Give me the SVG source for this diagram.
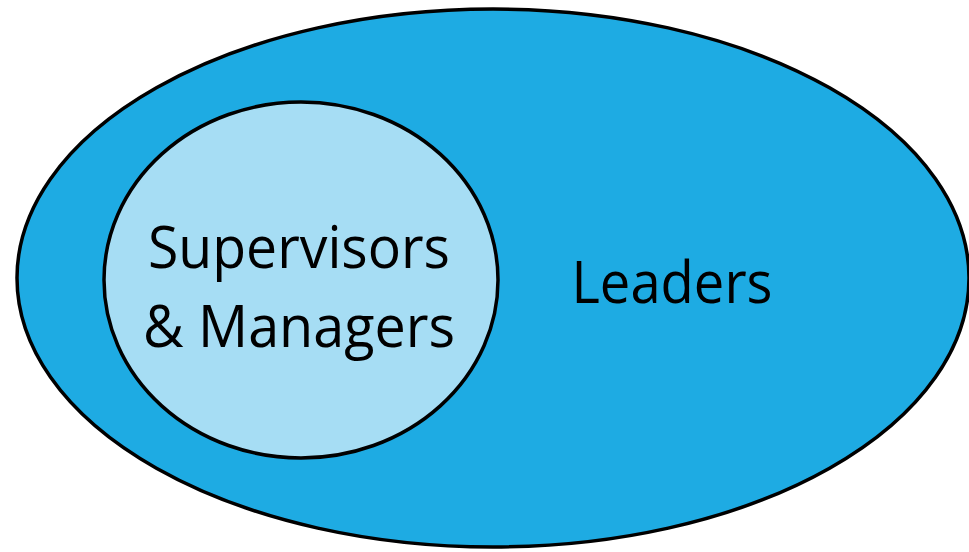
<svg xmlns="http://www.w3.org/2000/svg" width="969" height="552" viewBox="0 0 969 552">
<style>
.shape{stroke:#000;stroke-width:3.5}
.lbl{font-family:"Open Sans","Noto Sans",sans-serif;font-size:59px;fill:#000;text-anchor:middle}
</style>
<rect width="969" height="552" fill="#fff"/>
<g id="leaders">
<ellipse class="shape" cx="493" cy="278" rx="476" ry="269" fill="#1EABE3"/>
<text class="lbl" x="672" y="303" textLength="201" lengthAdjust="spacingAndGlyphs">Leaders</text>
</g>
<g id="supervisors">
<ellipse class="shape" cx="301" cy="280" rx="197" ry="178" fill="#A6DDF4"/>
<text class="lbl" x="299" y="268" textLength="302" lengthAdjust="spacingAndGlyphs">Supervisors</text>
<text class="lbl" x="299" y="347" textLength="312" lengthAdjust="spacingAndGlyphs">&amp; Managers</text>
</g>
<g id="connectors"/>
</svg>
